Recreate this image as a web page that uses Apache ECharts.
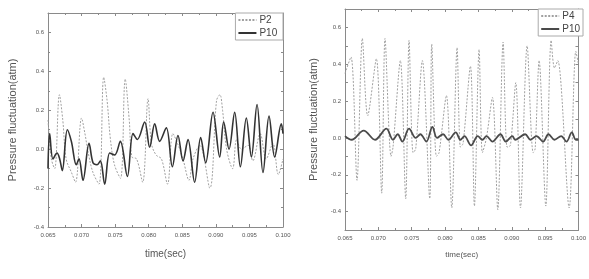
<!DOCTYPE html>
<html><head><meta charset="utf-8">
<script src="https://cdn.jsdelivr.net/npm/echarts@6/dist/echarts.min.js"></script>
<style>html,body{margin:0;padding:0;background:#fff}#c{width:589px;height:279px}</style>
</head><body><div id="c"></div>
<script>
// ---- Left chart data ----
const p2Time = [0.0650,0.0655,0.0660,0.0667,0.0672,0.0677,0.0685,0.0691,0.0700,0.0705,0.0710,0.0717,0.0726,0.0733,0.0738,0.0743,0.0749,0.0758,0.0765,0.0771,0.0775,0.0782,0.0791,0.0799,0.0804,0.0811,0.0819,0.0828,0.0836,0.0844,0.0851,0.0860,0.0866,0.0876,0.0891,0.0901,0.0906,0.0910,0.0916,0.0925,0.0931,0.0938,0.0948,0.0955,0.0966,0.0975,0.0985,0.0993,0.1000];
const p2Values = [0.15,-0.05,-0.10,0.28,0.15,-0.05,-0.12,-0.17,0.16,0.08,-0.02,-0.12,-0.18,0.37,0.25,0.05,-0.08,-0.15,0.36,0.15,-0.04,-0.05,-0.17,0.26,0.03,-0.03,-0.05,-0.18,0.08,0.02,-0.05,-0.16,-0.05,0.02,-0.20,0.25,0.28,0.20,0.00,-0.10,0.05,0.00,0.02,-0.06,0.08,-0.05,0.03,-0.13,-0.05];
const p10LeftTime = [0.0650,0.06525,0.06574,0.06634,0.06674,0.06713,0.06788,0.06848,0.06922,0.06962,0.07021,0.07111,0.07170,0.07230,0.07280,0.07344,0.07419,0.07493,0.07577,0.07682,0.07766,0.07831,0.07940,0.08014,0.08089,0.08163,0.08262,0.08352,0.08436,0.08511,0.08585,0.08684,0.08774,0.08848,0.08958,0.09057,0.09116,0.09196,0.09280,0.09365,0.09454,0.09529,0.09613,0.09702,0.09792,0.09876,0.09975,0.1000];
const p10LeftValues = [-0.10,0.08,-0.05,-0.02,-0.05,-0.11,0.10,0.04,-0.08,-0.05,-0.16,0.03,-0.07,-0.08,-0.06,-0.18,-0.02,-0.03,0.04,-0.14,0.08,0.05,0.14,0.01,0.13,0.04,0.11,-0.09,0.07,-0.06,0.05,-0.17,0.06,-0.07,0.19,-0.04,0.14,0.00,0.19,-0.09,0.16,-0.04,0.23,-0.12,0.17,-0.04,0.13,0.08];

// ---- Right chart data ----
const p4Time = [0.0650,0.0659,0.0668,0.0676,0.0684,0.0697,0.0705,0.0710,0.0719,0.0722,0.0733,0.0741,0.0746,0.0752,0.0756,0.0766,0.0777,0.0780,0.0787,0.0791,0.0802,0.0810,0.0818,0.0823,0.0827,0.0838,0.0844,0.0851,0.0856,0.0862,0.0871,0.0879,0.0887,0.0893,0.0898,0.0906,0.0913,0.0923,0.0932,0.0935,0.0941,0.0951,0.0959,0.0964,0.0969,0.0986,0.0996,0.1000];
const p4Values = [0.35,0.44,-0.23,0.54,0.12,0.43,-0.30,0.54,-0.10,-0.05,0.42,-0.33,0.53,-0.08,-0.06,0.42,-0.33,0.51,-0.10,-0.08,0.23,-0.38,0.49,-0.05,-0.03,0.39,-0.37,0.48,-0.08,0.00,0.22,-0.39,0.52,-0.05,-0.04,0.30,-0.38,0.50,-0.08,-0.06,0.42,-0.37,0.53,0.38,0.42,-0.38,0.47,0.40];
const p10RightTime = [0.0650,0.0660,0.0678,0.0695,0.0712,0.0722,0.0729,0.0736,0.0746,0.0756,0.0763,0.0772,0.0781,0.0788,0.0797,0.0805,0.0816,0.0823,0.0829,0.0839,0.0849,0.0856,0.0862,0.0871,0.0883,0.0891,0.0901,0.0905,0.0920,0.0928,0.0937,0.0947,0.0955,0.0964,0.0974,0.0982,0.0990,0.0996,0.1000];
const p10RightValues = [0.01,-0.01,0.04,-0.01,0.05,-0.01,0.02,-0.02,0.05,0.00,0.02,-0.02,0.06,0.00,0.02,-0.01,0.03,-0.01,0.01,-0.04,0.01,-0.01,0.01,-0.02,0.02,-0.02,0.01,-0.01,0.02,-0.01,0.01,-0.02,0.02,-0.01,0.01,-0.02,0.03,-0.01,-0.01];

const xTickMin = 0.065, xTickMax = 0.100, xTickStep = 0.005;

function pairs(t, v){ return t.map((x,i)=>[x, v[i]]); }

const chart = echarts.init(document.getElementById('c'), null, {renderer:'canvas'});
const frame = '#8a8a8a', labelColor = '#555', nameColor = '#555';

function xAx(gi, nameGap, nameSize, labelSize){
  return [{
    type:'value', gridIndex:gi, min:xTickMin, max:xTickMax, interval:xTickStep,
    name:'time(sec)', nameLocation:'middle', nameGap:nameGap,
    nameTextStyle:{fontFamily:'Liberation Sans, Arial', fontSize:nameSize, color:nameColor},
    axisLine:{show:true, onZero:false, lineStyle:{color:frame}},
    axisTick:{inside:true, length:3, lineStyle:{color:frame}},
    minorTick:{show:true, splitNumber:2, length:2, lineStyle:{color:frame}},
    splitLine:{show:false},
    axisLabel:{fontFamily:'Liberation Sans, Arial', fontSize:labelSize, color:labelColor, margin:5,
      formatter:v=>v.toFixed(3)}
  },{
    type:'value', gridIndex:gi, position:'top', min:xTickMin, max:xTickMax, interval:xTickStep,
    axisLine:{show:true, onZero:false, lineStyle:{color:frame}},
    axisTick:{inside:true, length:3, lineStyle:{color:frame}},
    minorTick:{show:true, splitNumber:2, length:2, lineStyle:{color:frame}},
    splitLine:{show:false}, axisLabel:{show:false}
  }];
}
function yAx(gi, min, max, interval, nameGap, nameSize, labelSize, minorSplit, labelFilter){
  return [{
    type:'value', gridIndex:gi, min:min, max:max, interval:interval,
    name:'Pressure fluctuation(atm)', nameLocation:'middle', nameGap:nameGap,
    nameTextStyle:{fontFamily:'Liberation Sans, Arial', fontSize:nameSize, color:nameColor},
    axisLine:{show:true, onZero:false, lineStyle:{color:frame}},
    axisTick:{inside:true, length:3, lineStyle:{color:frame}},
    minorTick:{show:minorSplit>0, splitNumber:minorSplit||2, length:2, lineStyle:{color:frame}},
    splitLine:{show:false},
    axisLabel:{fontFamily:'Liberation Sans, Arial', fontSize:labelSize, color:labelColor, margin:4,
      showMaxLabel:false, formatter:labelFilter}
  },{
    type:'value', gridIndex:gi, position:'right', min:min, max:max, interval:interval,
    axisLine:{show:true, onZero:false, lineStyle:{color:frame}},
    axisTick:{inside:true, length:3, lineStyle:{color:frame}},
    minorTick:{show:minorSplit>0, splitNumber:minorSplit||2, length:2, lineStyle:{color:frame}},
    splitLine:{show:false}, axisLabel:{show:false}
  }];
}

const fmtLeft = v => v.toFixed(1);
const fmtRight = v => {
  const k = Math.round(v*10);
  return (k % 2 === 0 && k <= 6 && k >= -4) ? (k/10).toFixed(1) : '';
};

const xs = xAx(0, 22, 10, 6).concat(xAx(1, 21, 8, 6));
const ys = yAx(0, -0.4, 0.7, 0.2, 30, 11, 6, 2, fmtLeft).concat(yAx(1, -0.5, 0.7, 0.1, 26, 11, 6, 0, fmtRight));

const legendCommon = {
  orient:'vertical', itemWidth:18, itemHeight:8, itemGap:3, padding:[2,3,2,2],
  borderColor:'#aaa', borderWidth:1, backgroundColor:'#fff',
  itemStyle:{color:'rgba(0,0,0,0)', borderWidth:0},
  textStyle:{fontFamily:'Liberation Sans, Arial', fontSize:10, color:'#444', padding:[0,0,0,-2]}
};

chart.setOption({
  animation:false,
  grid:[
    {left:48, top:13, width:235, height:214, show:false},
    {left:345, top:9, width:238, height:221, show:false}
  ],
  xAxis: xs,
  yAxis: ys,
  legend:[
    Object.assign({}, legendCommon, {right:306, top:13, data:['P2','P10 ']}),
    Object.assign({}, legendCommon, {right:6, top:9, data:['P4','P10']})
  ],
  series:[
    {name:'P2', type:'line', xAxisIndex:0, yAxisIndex:0, data:pairs(p2Time,p2Values), smooth:0.35,
     showSymbol:false, symbol:'none', lineStyle:{color:'#a0a0a0', width:1, type:[2,1.5]}, itemStyle:{color:'#a0a0a0'}, z:2},
    {name:'P10 ', type:'line', xAxisIndex:0, yAxisIndex:0, data:pairs(p10LeftTime,p10LeftValues), smooth:0.35,
     showSymbol:false, symbol:'none', lineStyle:{color:'#333', width:1.6}, itemStyle:{color:'#333'}, z:3},
    {name:'P4', type:'line', xAxisIndex:2, yAxisIndex:2, data:pairs(p4Time,p4Values), smooth:0.3,
     showSymbol:false, symbol:'none', lineStyle:{color:'#a0a0a0', width:1, type:[2,1.5]}, itemStyle:{color:'#a0a0a0'}, z:2},
    {name:'P10', type:'line', xAxisIndex:2, yAxisIndex:2, data:pairs(p10RightTime,p10RightValues), smooth:0.35,
     showSymbol:false, symbol:'none', lineStyle:{color:'#4a4a4a', width:1.8}, itemStyle:{color:'#4a4a4a'}, z:3}
  ]
});
</script></body></html>
